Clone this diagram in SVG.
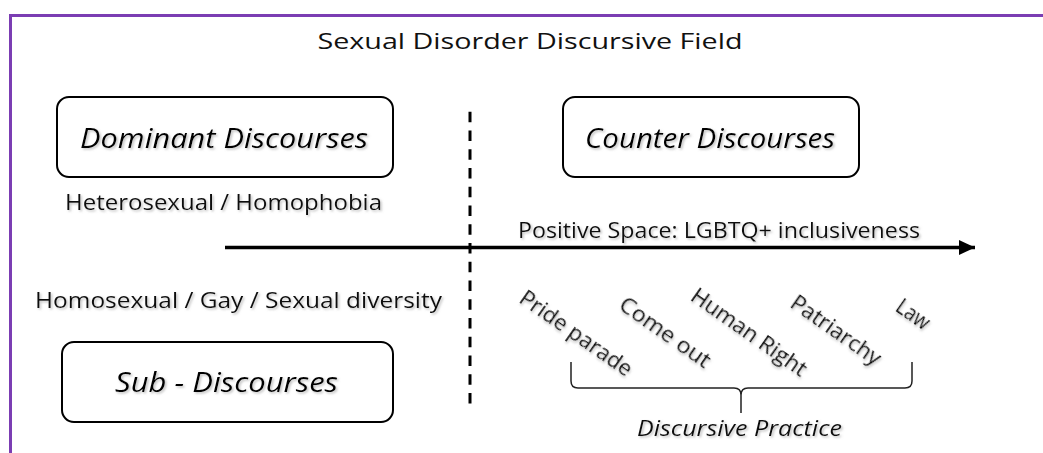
<svg xmlns="http://www.w3.org/2000/svg" width="1043" height="453" viewBox="0 0 1043 453">
  <style>
    text { font-family: "Open Sans", "Noto Sans", "DejaVu Sans", sans-serif; fill: #111; }
    .title { font-size: 22px; }
    .lbl { font-size: 22px; filter: url(#shadow); }
    .box-text { font-size: 28px; font-style: italic; fill: #000; filter: url(#shadow); }
    .box { fill: #fff; stroke: #000; stroke-width: 2; }
    .rot { font-size: 22px; filter: url(#shadow); }
  </style>
  <defs>
    <filter id="shadow" x="-10%" y="-30%" width="120%" height="160%">
      <feDropShadow dx="1.5" dy="1.5" stdDeviation="1" flood-color="#888" flood-opacity="0.55"/>
    </filter>
    <marker id="arrow" viewBox="0 0 16 16" refX="16" refY="8" markerWidth="16" markerHeight="16" markerUnits="userSpaceOnUse" orient="auto">
      <path d="M0,0.5 L16,8 L0,15.5 Z" fill="#000"/>
    </marker>
  </defs>

  <rect width="1043" height="453" fill="#fff"/>

  <!-- frame -->
  <path d="M10.5,453 V15.5 H1043" fill="none" stroke="#7b3db3" stroke-width="3"/>

  <text class="title" x="530" y="49" text-anchor="middle" textLength="425" lengthAdjust="spacingAndGlyphs">Sexual Disorder Discursive Field</text>

  <g id="connectors">
    <line x1="470" y1="111.75" x2="470" y2="403.5" stroke="#000" stroke-width="3" stroke-dasharray="10.5 8.25"/>
    <line x1="225" y1="247.5" x2="975" y2="247.5" stroke="#000" stroke-width="3.5" marker-end="url(#arrow)"/>
    <path d="M571,362 V381 Q571,388 578,388 H734 Q741,388 741,395 V413 M741,395 Q741,388 748,388 H905 Q912,388 912,381 V362" fill="none" stroke="#222" stroke-width="1.5"/>
  </g>

  <g id="dominant">
    <rect class="box" x="57" y="97" width="336" height="80" rx="12"/>
    <text class="box-text" x="224" y="148" text-anchor="middle" textLength="288" lengthAdjust="spacingAndGlyphs">Dominant Discourses</text>
  </g>

  <g id="counter">
    <rect class="box" x="563" y="97" width="296" height="80" rx="12"/>
    <text class="box-text" x="710" y="148" text-anchor="middle" textLength="250" lengthAdjust="spacingAndGlyphs">Counter Discourses</text>
  </g>

  <g id="sub">
    <rect class="box" x="62" y="342" width="331" height="80" rx="12"/>
    <text class="box-text" x="226.5" y="392" text-anchor="middle" textLength="223" lengthAdjust="spacingAndGlyphs">Sub - Discourses</text>
  </g>

  <g id="heterosexual">
    <text class="lbl" x="223.5" y="210" text-anchor="middle" textLength="317" lengthAdjust="spacingAndGlyphs">Heterosexual / Homophobia</text>
  </g>

  <g id="positive-space">
    <text class="lbl" x="719" y="238" text-anchor="middle" textLength="402" lengthAdjust="spacingAndGlyphs">Positive Space: LGBTQ+ inclusiveness</text>
  </g>

  <g id="homosexual">
    <text class="lbl" x="238.5" y="308" text-anchor="middle" textLength="407" lengthAdjust="spacingAndGlyphs">Homosexual / Gay / Sexual diversity</text>
  </g>

  <g id="practices">
    <text class="rot" x="577" y="332" text-anchor="middle" dominant-baseline="central" textLength="132" lengthAdjust="spacingAndGlyphs" transform="rotate(35 577 332)">Pride parade</text>
    <text class="rot" x="666" y="331" text-anchor="middle" dominant-baseline="central" textLength="106" lengthAdjust="spacingAndGlyphs" transform="rotate(35 666 331)">Come out</text>
    <text class="rot" x="750" y="331" text-anchor="middle" dominant-baseline="central" textLength="136" lengthAdjust="spacingAndGlyphs" transform="rotate(35 750 331)">Human Right</text>
    <text class="rot" x="837" y="329" text-anchor="middle" dominant-baseline="central" textLength="105" lengthAdjust="spacingAndGlyphs" transform="rotate(35 837 329)">Patriarchy</text>
    <text class="rot" x="914" y="313" text-anchor="middle" dominant-baseline="central" textLength="36" lengthAdjust="spacingAndGlyphs" transform="rotate(35 914 313)">Law</text>
  </g>

  <g id="discursive-practice">
    <text class="lbl" x="739.5" y="436" text-anchor="middle" font-style="italic" font-size="21" textLength="205" lengthAdjust="spacingAndGlyphs">Discursive Practice</text>
  </g>
</svg>
